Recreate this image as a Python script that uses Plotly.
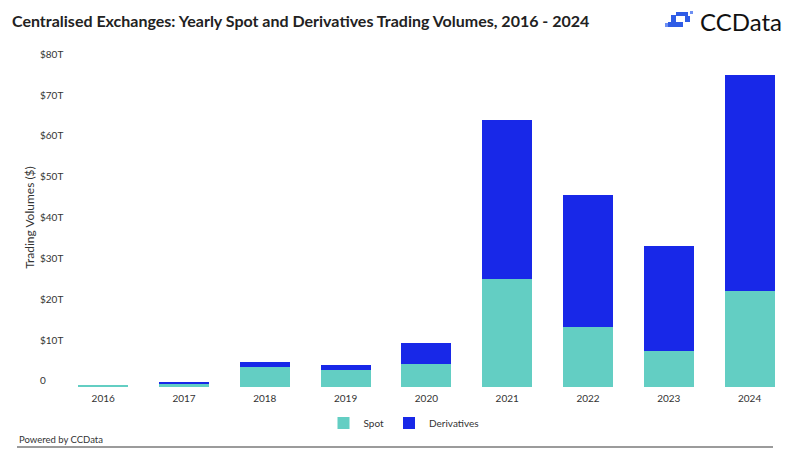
import plotly.graph_objects as go

years = ["2016", "2017", "2018", "2019", "2020", "2021", "2022", "2023", "2024"]
spot = [0.3, 0.9, 5.0, 4.2, 5.6, 26.4, 14.6, 8.8, 23.5]
derivatives = [0.0, 0.25, 1.0, 1.3, 5.2, 39.1, 32.5, 25.8, 52.9]
tick_vals = [0, 10, 20, 30, 40, 50, 60, 70, 80]
tick_text = ["0", "$10T", "$20T", "$30T", "$40T", "$50T", "$60T", "$70T", "$80T"]

W, H = 800, 464
Y0, Y1 = -0.5, 83.5
ML, MR, MT, MB = 37, 10, 46, 75
PW, PH = W - ML - MR, H - MT - MB

def px(x):
    return (x - ML) / PW

def py(y):
    return (H - MB - y) / PH

FONT = "Lato"
SPOT_C = "#63CEC3"
DER_C = "#1828E8"

fig = go.Figure()
fig.add_bar(x=years, y=spot, name="Spot", marker=dict(color=SPOT_C, line=dict(width=0)))
fig.add_bar(x=years, y=derivatives, name="Derivatives", marker=dict(color=DER_C, line=dict(width=0)))

shapes = []
shapes.append(dict(type="line", xref="paper", yref="paper", x0=px(17), x1=px(773), y0=py(447), y1=py(447),
                   line=dict(color="#7a7a7a", width=1.5)))
icon = [
    (665, 23, 668, 27, "#6d8ff2"),
    (668, 22, 683, 27, "#2f5ce6"),
    (671, 15, 676, 22, "#2f5ce6"),
    (676, 12, 688, 16, "#2f5ce6"),
    (685, 16, 690, 22, "#2f5ce6"),
    (690, 11, 693, 14, "#6d8ff2"),
]
for x0, y0, x1, y1, c in icon:
    shapes.append(dict(type="rect", xref="paper", yref="paper", x0=px(x0), x1=px(x1), y0=py(y1), y1=py(y0),
                       line=dict(width=0), fillcolor=c))

annotations = [
    dict(text="Powered by CCData", xref="paper", yref="paper", x=px(17), y=py(440), xanchor="left",
         yanchor="middle", showarrow=False, font=dict(family=FONT, size=9.5, color="#333")),
    dict(text="CCData", xref="paper", yref="paper", x=px(698), y=py(21.5), xanchor="left",
         yanchor="middle", showarrow=False, font=dict(family=FONT, size=24, color="#111")),
]

fig.update_layout(
    width=W, height=H,
    margin=dict(l=ML, r=MR, t=MT, b=MB, autoexpand=False),
    paper_bgcolor="white", plot_bgcolor="white",
    barmode="stack", bargap=0.38,
    font=dict(family=FONT, color="#333"),
    title=dict(text="<b>Centralised Exchanges: Yearly Spot and Derivatives Trading Volumes, 2016 - 2024</b>",
               x=12 / W, xanchor="left", y=1 - 21 / H, yanchor="middle", xref="container", yref="container",
               font=dict(family=FONT, size=16, color="#222")),
    xaxis=dict(range=[8.5 - PW / 80.8, 8.5], showgrid=False, showline=False, zeroline=False, automargin=False,
               ticks="", tickfont=dict(size=10, color="#333"), ticklabelstandoff=2),
    yaxis=dict(range=[Y0, Y1], tickvals=tick_vals, ticktext=tick_text, showgrid=False, showline=False,
               zeroline=False, ticks="", ticklabelposition="inside", ticklabelshift=-6, automargin=False,
               tickfont=dict(size=10, color="#333"),
               title=dict(text="Trading Volumes ($)", standoff=2, font=dict(size=12, color="#333"))),
    legend=dict(orientation="h", xref="container", yref="container", x=0.505, xanchor="center",
                y=1 - 423 / H, yanchor="middle", font=dict(size=10, color="#333"), traceorder="normal",
                itemwidth=30),
    shapes=shapes, annotations=annotations,
)

fig.write_html("out.html", config={"displayModeBar": False},
               post_script="document.body.style.margin='0px';document.body.style.overflow='hidden';")
